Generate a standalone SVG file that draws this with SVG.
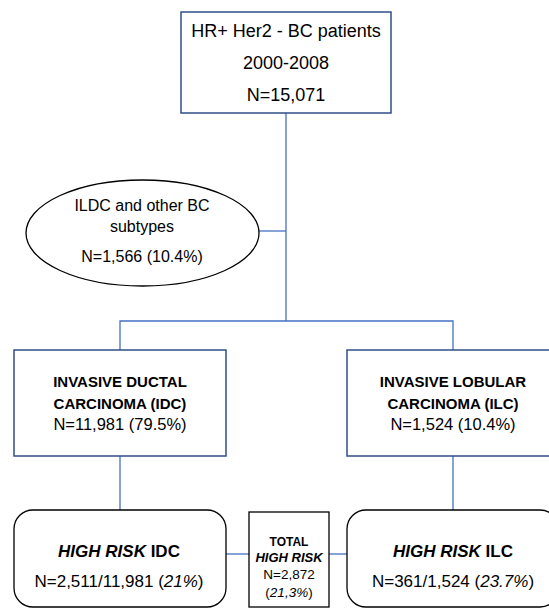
<svg xmlns="http://www.w3.org/2000/svg" width="549" height="609" viewBox="0 0 549 609">
<style>
text{font-family:"Liberation Sans",Arial,sans-serif;fill:#000;text-anchor:middle}
.bx{fill:#fff;stroke:#2F4F86;stroke-width:1.5}
.bk{fill:#fff;stroke:#000;stroke-width:1.3}
.cn{fill:none;stroke:#4472C4;stroke-width:1.3}
.b{font-weight:bold}
.i{font-style:italic}
</style>
<g id="connectors">
<line class="cn" x1="286" y1="113" x2="286" y2="321"/>
<line class="cn" x1="259" y1="231" x2="286" y2="231"/>
<polyline class="cn" points="120,350 120,321 453,321 453,350"/>
<line class="cn" x1="120" y1="456" x2="120" y2="510"/>
<line class="cn" x1="453" y1="456" x2="453" y2="510"/>
<line class="cn" x1="226" y1="554" x2="249" y2="554"/>
<line class="cn" x1="329" y1="554" x2="347" y2="554"/>
</g>
<g id="top">
<rect class="bx" x="181" y="12" width="210" height="101"/>
<text x="286" y="37" font-size="18">HR+ Her2 - BC patients</text>
<text x="286" y="69" font-size="18">2000-2008</text>
<text x="286" y="101" font-size="18">N=15,071</text>
</g>
<g id="other">
<ellipse class="bk" cx="142.5" cy="233" rx="116.5" ry="53"/>
<text x="142" y="211" font-size="16">ILDC and other BC</text>
<text x="142" y="232" font-size="16">subtypes</text>
<text x="142" y="262" font-size="16">N=1,566 (10.4%)</text>
</g>
<g id="idc">
<rect class="bx" x="14" y="350" width="212" height="106"/>
<text x="120" y="387" font-size="15" class="b">INVASIVE DUCTAL</text>
<text x="120" y="409" font-size="15" class="b">CARCINOMA (IDC)</text>
<text x="120" y="430" font-size="16.5">N=11,981 (79.5%)</text>
</g>
<g id="ilc">
<rect class="bx" x="347" y="350" width="212" height="106"/>
<text x="453" y="387" font-size="15" class="b">INVASIVE LOBULAR</text>
<text x="453" y="409" font-size="15" class="b">CARCINOMA (ILC)</text>
<text x="453" y="430" font-size="16.5">N=1,524 (10.4%)</text>
</g>
<g id="hr-idc">
<rect class="bk" x="14" y="510" width="212" height="97" rx="19" ry="19"/>
<text x="119" y="557" font-size="17" class="b"><tspan class="i">HIGH RISK</tspan> IDC</text>
<text x="119" y="587" font-size="17">N=2,511/11,981 (<tspan class="i">21%</tspan>)</text>
</g>
<g id="total">
<rect class="bk" x="249" y="512" width="80" height="95"/>
<text x="289" y="546" font-size="12" class="b">TOTAL</text>
<text x="289" y="562" font-size="13" class="b i">HIGH RISK</text>
<text x="289" y="579" font-size="13.5">N=2,872</text>
<text x="289" y="597" font-size="13.5">(<tspan class="i">21,3%</tspan>)</text>
</g>
<g id="hr-ilc">
<rect class="bk" x="347" y="510" width="212" height="97" rx="19" ry="19"/>
<text x="453" y="557" font-size="17" class="b"><tspan class="i">HIGH RISK</tspan> ILC</text>
<text x="453" y="587" font-size="17">N=361/1,524 (<tspan class="i">23.7%</tspan>)</text>
</g>
</svg>
